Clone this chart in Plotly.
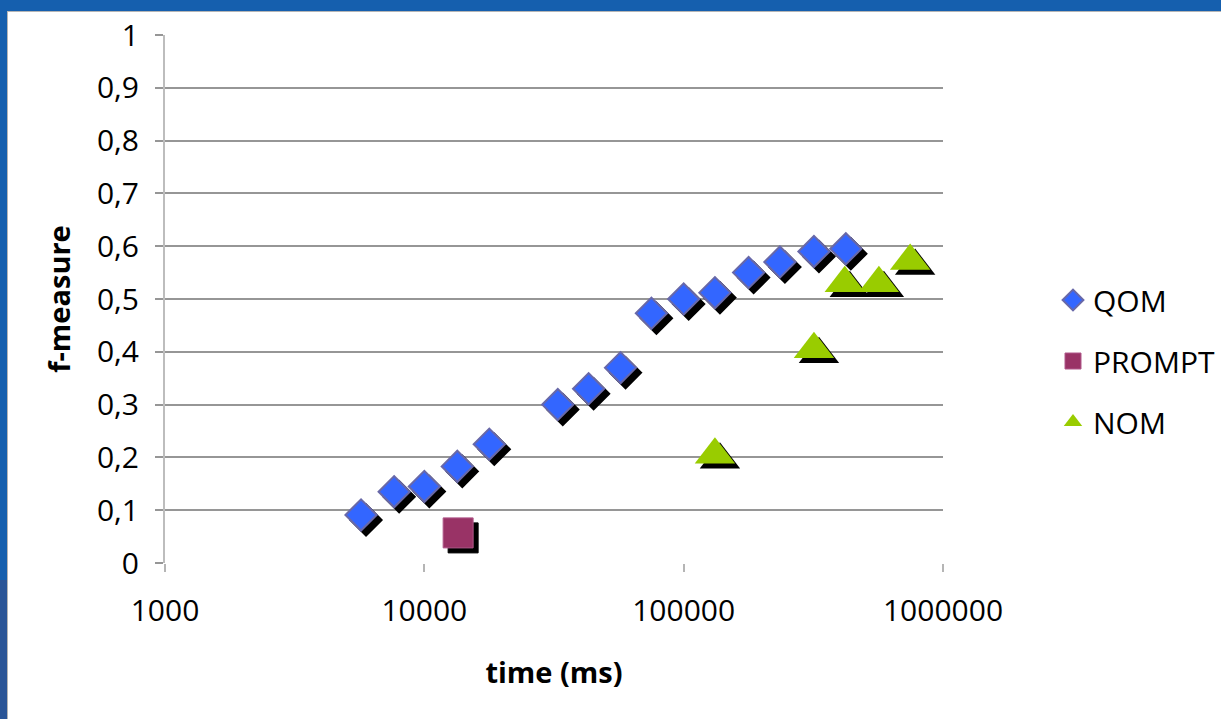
import plotly.graph_objects as go

# ---- data ----
qom_time = [5700, 7650, 10000, 13400, 17800, 32700, 43000, 57100, 75100,
            100000, 132000, 178000, 235000, 318000, 422000]
qom_f = [0.091, 0.135, 0.145, 0.183, 0.225, 0.30, 0.33, 0.37, 0.473,
         0.50, 0.512, 0.55, 0.57, 0.59, 0.595]
prompt_time = [13500]
prompt_f = [0.057]
nom_time = [132000, 318000, 418000, 566000, 747000]
nom_f = [0.205, 0.405, 0.53, 0.53, 0.572]

y_ticks = [0, 0.1, 0.2, 0.3, 0.4, 0.5, 0.6, 0.7, 0.8, 0.9, 1]
y_tick_text = ["0", "0,1", "0,2", "0,3", "0,4", "0,5", "0,6", "0,7", "0,8", "0,9", "1"]
x_ticks = [1000, 10000, 100000, 1000000]
x_tick_text = ["1000", "10000", "100000", "1000000"]

# ---- geometry ----
W, H = 1221, 719
L, R, T, B = 165, 278, 35, 156
PW, PH = W - L - R, H - T - B
X_RANGE = [3, 6]
Y_RANGE = [0, 1]
SH = 5  # shadow offset in px
px_per_decade = PW / (X_RANGE[1] - X_RANGE[0])
px_per_unit = PH / (Y_RANGE[1] - Y_RANGE[0])


def shadow_x(xs):
    return [v * 10 ** (SH / px_per_decade) for v in xs]


def shadow_y(ys):
    return [v - SH / px_per_unit for v in ys]


def fx(px):
    return (px - L) / PW


def fy(py):
    return (H - B - py) / PH


FONT = "Open Sans"
FS = 30
FS_TITLE = 29
fig = go.Figure()

series = [
    ("QOM", qom_time, qom_f, dict(symbol="diamond", size=24, color="#3366ff",
                                  line=dict(color="#6868a8", width=2))),
    ("PROMPT", prompt_time, prompt_f, dict(symbol="square", size=30, color="#993366",
                                          line=dict(color="#b0588a", width=1))),
    ("NOM", nom_time, nom_f, dict(symbol="triangle-up", size=35, color="#99cc00",
                                  line=dict(width=0))),
]

# shadows first (drawn beneath)
for name, xs, ys, mk in series:
    sm = dict(mk)
    sm["color"] = "black"
    sm["line"] = dict(color="black", width=mk["line"].get("width", 0))
    fig.add_trace(go.Scatter(x=shadow_x(xs), y=shadow_y(ys), mode="markers",
                             marker=sm, showlegend=False, hoverinfo="skip"))

for name, xs, ys, mk in series:
    fig.add_trace(go.Scatter(x=xs, y=ys, mode="markers", name=name, marker=mk,
                             legendgroup=name))

shapes = [
    dict(type="rect", xref="paper", yref="paper", x0=fx(0), x1=fx(W), y0=fy(11), y1=fy(0),
         fillcolor="#155fae", line=dict(width=0), layer="above"),
    dict(type="line", xref="paper", yref="paper", x0=fx(7), x1=fx(W), y0=fy(11.5), y1=fy(11.5),
         line=dict(color="#b5b5b5", width=1)),
    dict(type="rect", xref="paper", yref="paper", x0=fx(0), x1=fx(7), y0=fy(580), y1=fy(11),
         fillcolor="#155fae", line=dict(width=0)),
    dict(type="rect", xref="paper", yref="paper", x0=fx(0), x1=fx(7), y0=fy(H), y1=fy(580),
         fillcolor="#2a5597", line=dict(width=0)),
    dict(type="line", xref="paper", yref="paper", x0=fx(7.5), x1=fx(7.5), y0=fy(H), y1=fy(11),
         line=dict(color="#b5b5b5", width=1)),
]

fig.update_layout(
    width=W, height=H,
    margin=dict(l=L, r=R, t=T, b=B, pad=0, autoexpand=False),
    paper_bgcolor="white", plot_bgcolor="white",
    font=dict(family=FONT, size=FS, color="black"),
    shapes=shapes,
    showlegend=True,
    legend=dict(x=fx(1053), y=fy(361), xanchor="left", yanchor="middle",
                traceorder="grouped", tracegroupgap=19,
                font=dict(family=FONT, size=FS, color="black"),
                bgcolor="rgba(0,0,0,0)"),
    xaxis=dict(type="log", range=X_RANGE, tickvals=x_ticks, ticktext=x_tick_text,
               showgrid=False, zeroline=False, showline=False,
               ticks="outside", ticklen=8, tickwidth=1.5, tickcolor="#b5b5b5",
               ticklabelstandoff=13,
               title=dict(text="<b>time (ms)</b>", standoff=33,
                          font=dict(family=FONT, size=FS_TITLE, color="black"))),
    yaxis=dict(range=Y_RANGE, tickvals=y_ticks, ticktext=y_tick_text,
               showgrid=True, gridcolor="#969696", gridwidth=1.5, zeroline=False,
               showline=True, linecolor="#bdbdbd", linewidth=2,
               ticks="outside", ticklen=8, tickwidth=1.5, tickcolor="#969696",
               ticklabelstandoff=10,
               title=dict(text="<b>f-measure</b>", standoff=18,
                          font=dict(family=FONT, size=FS_TITLE, color="black"))),
)

fig.write_html("out.html",
               config={"displayModeBar": False},
               post_script="document.body.style.margin='0';document.body.style.padding='0';")
